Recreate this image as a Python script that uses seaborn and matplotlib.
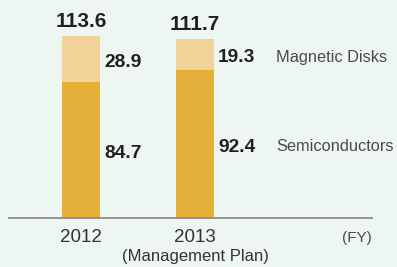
import matplotlib
matplotlib.use('Agg')
import matplotlib.pyplot as plt
import seaborn as sns
import pandas as pd

# Chart values
years = ['2012', '2013']
semiconductors = [84.7, 92.4]
magnetic_disks = [28.9, 19.3]
totals = [113.6, 111.7]
series_names = ['Magnetic Disks', 'Semiconductors']
plan_note = '(Management Plan)'
unit_note = '(FY)'

sns.set_theme(style='white')
plt.rcParams['font.family'] = ['Liberation Sans', 'DejaVu Sans']

bg = '#eef6f2'
dark_gold = '#e5b03a'
light_gold = '#f2d49a'

df = pd.DataFrame({'year': years, 'semi': semiconductors,
                   'disk': magnetic_disks, 'total': totals})

fig = plt.figure(figsize=(3.97, 2.67), dpi=100, facecolor=bg)
ax = fig.add_axes([9 / 397, 49 / 267, 363 / 397, 218 / 267])
ax.set_facecolor(bg)

# stacked bars: total (light) underneath, semiconductors (dark) on top
sns.barplot(data=df, x='year', y='total', color=light_gold, width=0.333,
            saturation=1, errorbar=None, linewidth=0, ax=ax)
sns.barplot(data=df, x='year', y='semi', color=dark_gold, width=0.333,
            saturation=1, errorbar=None, linewidth=0, ax=ax)

ax.set_xlim(-0.6316, 2.553)
ax.set_ylim(0, 136.07)
ax.set_xticks([])
ax.set_yticks([])
ax.set_xlabel('')
ax.set_ylabel('')
for side in ['top', 'right', 'left']:
    ax.spines[side].set_visible(False)
ax.spines['bottom'].set_color('#8c8c8c')
ax.spines['bottom'].set_linewidth(1.3)

txt_dark = '#231f20'
for i, row in df.iterrows():
    # total above bar
    ax.text(i, row['total'] + 5.8, f"{row['total']:.1f}", ha='center',
            va='baseline', fontsize=15, fontweight='bold', color=txt_dark)
    # segment values at the right of each segment
    ax.text(i + 0.202, row['semi'] / 2 - 0.8, f"{row['semi']:.1f}", ha='left',
            va='center_baseline', fontsize=13.8, fontweight='bold', color=txt_dark)
    ax.text(i + 0.202, row['semi'] + row['disk'] / 2 - 0.8, f"{row['disk']:.1f}",
            ha='left', va='center_baseline', fontsize=13.8, fontweight='bold',
            color=txt_dark)
    # year label under the axis
    ax.text(i, -15.0, row['year'], ha='center', va='baseline', fontsize=13.5,
            color='#333333', clip_on=False)

# series names next to the 2013 bar
last = len(df) - 1
ax.text(1.7105, df['semi'][last] + df['disk'][last] / 2 - 0.8, series_names[0],
        ha='left', va='center_baseline', fontsize=11.8, color='#4a4a4a')
ax.text(1.7105, df['semi'][last] / 2 - 0.8, series_names[1],
        ha='left', va='center_baseline', fontsize=11.8, color='#4a4a4a')

ax.text(1, -26.9, plan_note, ha='center', va='baseline', fontsize=12,
        color='#333333', clip_on=False)
ax.text(2.553, -15.0, unit_note, ha='right', va='baseline', fontsize=11,
        color='#4a4a4a', clip_on=False)

fig.savefig('out.png', dpi=100, facecolor=bg)
